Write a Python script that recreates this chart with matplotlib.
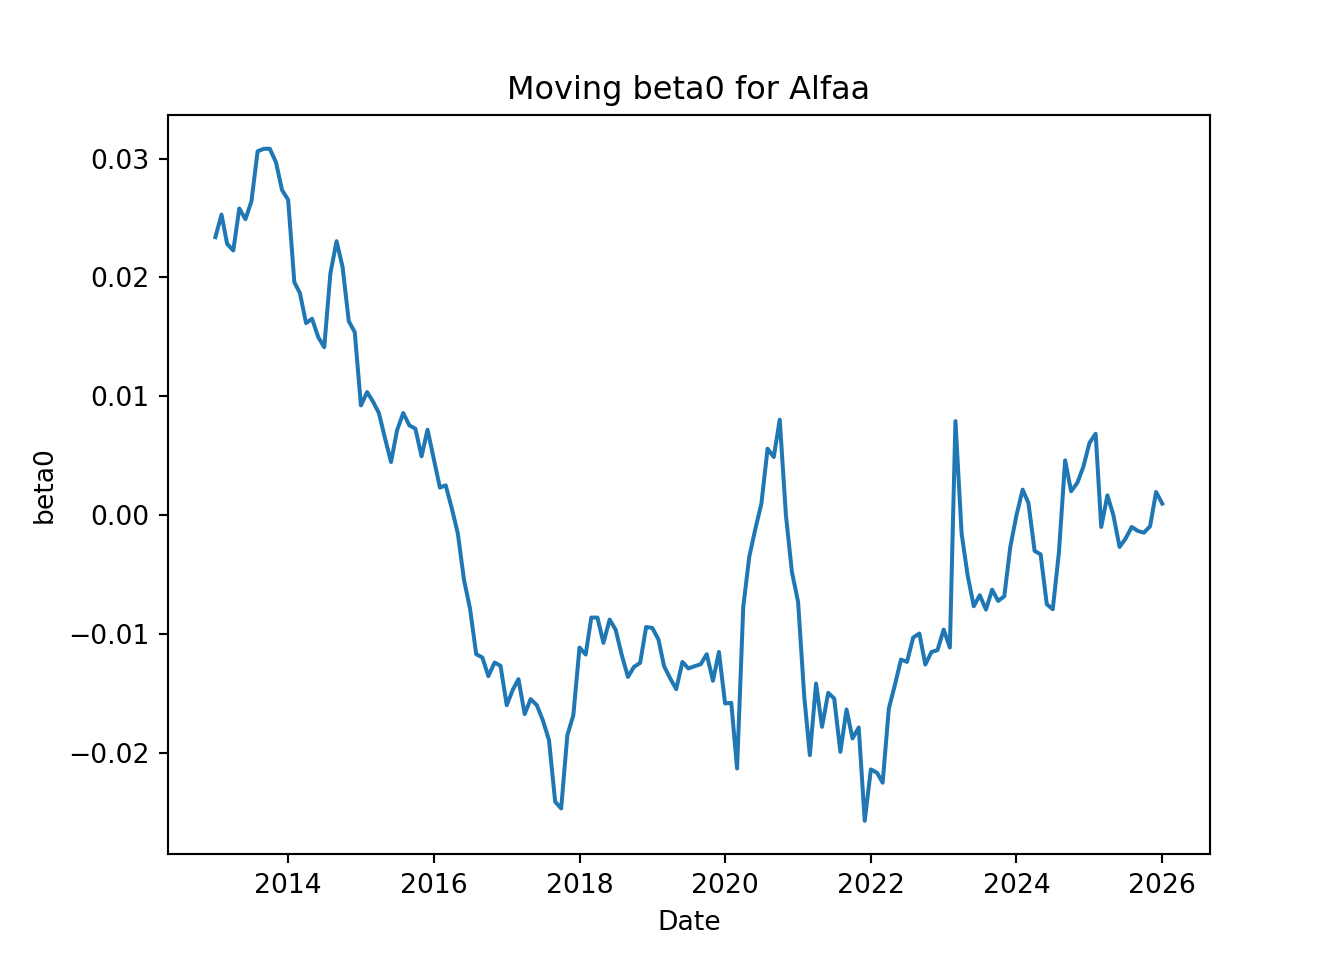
import pandas as pd
from matplotlib import pyplot as plt

# monthly samples, first of month
start_month = '2013-01-01'
n_months = 157

beta0 = [
	0.02339, 0.02529, 0.02283, 0.02227, 0.02580, 0.02490, 0.02641, 0.03061, 0.03082, 0.03082, 0.02969, 0.02737,  # 2013
	0.02653, 0.01961, 0.01868, 0.01616, 0.01653, 0.01498, 0.01414, 0.02036, 0.02305, 0.02087, 0.01633, 0.01540,  # 2014
	0.00924, 0.01036, 0.00961, 0.00860, 0.00653, 0.00448, 0.00714, 0.00860, 0.00756, 0.00728, 0.00496, 0.00720,  # 2015
	0.00476, 0.00233, 0.00252, 0.00056, -0.00154, -0.00546, -0.00784, -0.01168, -0.01196, -0.01353, -0.01238, -0.01266,  # 2016
	-0.01597, -0.01465, -0.01378, -0.01672, -0.01546, -0.01597, -0.01723, -0.01891, -0.02409, -0.02465, -0.01849, -0.01681,  # 2017
	-0.01112, -0.01171, -0.00860, -0.00860, -0.01073, -0.00877, -0.00961, -0.01176, -0.01359, -0.01275, -0.01241, -0.00939,  # 2018
	-0.00947, -0.01045, -0.01269, -0.01372, -0.01462, -0.01233, -0.01288, -0.01269, -0.01252, -0.01168, -0.01392, -0.01149,  # 2019
	-0.01582, -0.01577, -0.02129, -0.00771, -0.00350, -0.00112, 0.00098, 0.00560, 0.00490, 0.00804, 0.00000, -0.00476,  # 2020
	-0.00728, -0.01527, -0.02017, -0.01415, -0.01779, -0.01493, -0.01541, -0.01989, -0.01633, -0.01877, -0.01784, -0.02569,  # 2021
	-0.02137, -0.02165, -0.02249, -0.01625, -0.01429, -0.01213, -0.01233, -0.01028, -0.00994, -0.01255, -0.01149, -0.01134,  # 2022
	-0.00961, -0.01112, 0.00792, -0.00154, -0.00504, -0.00765, -0.00672, -0.00793, -0.00625, -0.00720, -0.00681, -0.00266,  # 2023
	0.00000, 0.00216, 0.00103, -0.00300, -0.00328, -0.00748, -0.00790, -0.00308, 0.00462, 0.00202, 0.00272, 0.00406,  # 2024
	0.00608, 0.00686, -0.00098, 0.00168, 0.00000, -0.00266, -0.00196, -0.00098, -0.00132, -0.00146, -0.00092, 0.00196,  # 2025
	0.00098,  # 2026
]

title = 'Moving beta0 for Alfaa'
xlabel = 'Date'
ylabel = 'beta0'

dates = pd.date_range(start_month, periods=n_months, freq='MS')
df = pd.DataFrame({'Date': dates, 'beta0': beta0})

fig, ax = plt.subplots(figsize=(7, 5), dpi=192)
ax.plot(df['Date'], df['beta0'])
ax.set_title(title)
ax.set_xlabel(xlabel)
ax.set_ylabel(ylabel)

fig.savefig('out.png', dpi=192)
